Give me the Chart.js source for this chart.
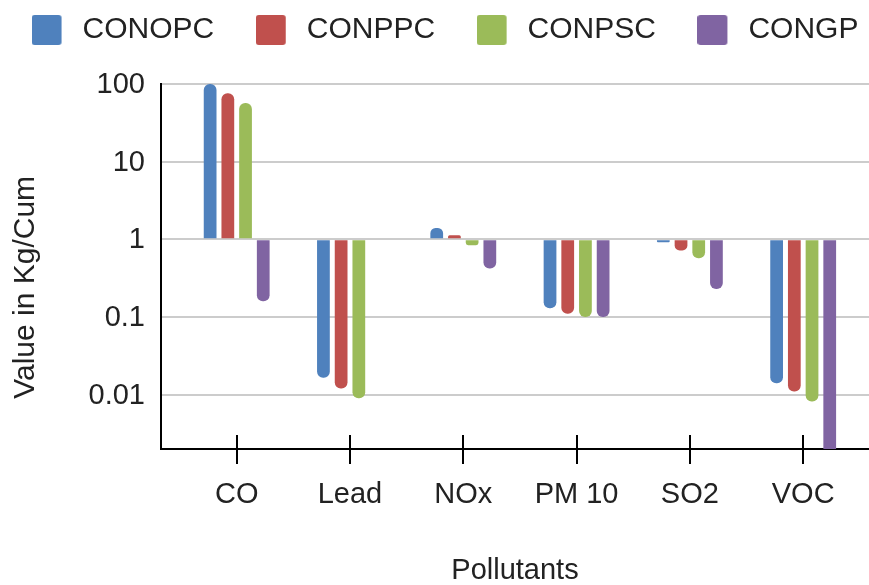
<!DOCTYPE html>
<html>
<head>
<meta charset="utf-8">
<script src="https://cdn.jsdelivr.net/npm/chart.js@4.4.1/dist/chart.umd.min.js"></script>
<style>
html,body{margin:0;padding:0;background:#ffffff;}
#wrap{width:869px;height:585px;}
</style>
</head>
<body>
<div id="wrap"><canvas id="c" width="869" height="585"></canvas></div>
<script>
// ---- data ----
const categories = ['CO', 'Lead', 'NOx', 'PM 10', 'SO2', 'VOC'];
const seriesNames = ['CONOPC', 'CONPPC', 'CONPSC', 'CONGP'];
const conopc = [100, 0.0165, 1.4, 0.13, 0.92, 0.014];
const conppc = [76, 0.012, 1.13, 0.11, 0.72, 0.011];
const conpsc = [57, 0.009, 0.84, 0.1, 0.57, 0.0082];
const congp  = [0.16, null, 0.42, 0.1, 0.23, 0.0015];
const yTickValues = [0.01, 0.1, 1, 10, 100];
const yTickLabels = ['0.01', '0.1', '1', '10', '100'];
const seriesColors = ['#4F81BD', '#C0504D', '#9BBB59', '#8064A2'];

const seriesValues = [conopc, conppc, conpsc, congp];
const FAMILY = "'Liberation Sans', Arial, Helvetica, sans-serif";
const TEXT = '#222222';

function makeSwatch(color) {
  const c = document.createElement('canvas');
  c.width = 36; c.height = 30;
  const g = c.getContext('2d');
  g.fillStyle = color;
  g.beginPath();
  if (g.roundRect) g.roundRect(0, 0, 30, 30, 3); else g.rect(0, 0, 30, 30);
  g.fill();
  return c;
}
const swatches = seriesColors.map(makeSwatch);

const legendTweak = {
  id: 'legendTweak',
  beforeLayout(chart) {
    const lg = chart.legend;
    if (lg && !lg._tweaked) {
      lg._tweaked = true;
      const orig = lg.fit;
      lg.fit = function () {
        const mw = this.maxWidth;
        this.maxWidth = 5000;
        orig.call(this);
        this.maxWidth = mw;
        this.width = mw;
        this.height += 29;
      };
    }
  },
  afterLayout(chart) {
    const lg = chart.legend;
    if (lg) { lg.left -= 60; lg.right += 60; }
  }
};

const xTickUp = {
  id: 'xTickUp',
  afterDatasetsDraw(chart) {
    const xs = chart.scales.x;
    const y0 = chart.chartArea.bottom;
    const ctx = chart.ctx;
    ctx.save();
    ctx.strokeStyle = '#000000';
    ctx.lineWidth = 2;
    xs.ticks.forEach(t => {
      const px = Math.round(xs.getPixelForValue(t.value));
      ctx.beginPath();
      ctx.moveTo(px, y0 - 14);
      ctx.lineTo(px, y0);
      ctx.stroke();
    });
    ctx.restore();
  }
};

const datasets = seriesNames.map((name, k) => ({
  label: name,
  data: seriesValues[k].map((v, i) => ({ x: i, y: v })),
  backgroundColor: seriesColors[k],
  borderWidth: 0,
  borderRadius: 6,
  borderSkipped: 'start',
  base: 1,
  clip: 0,
  categoryPercentage: 0.625,
  barPercentage: 0.72
}));

new Chart(document.getElementById('c'), {
  type: 'bar',
  data: { datasets },
  options: {
    responsive: false,
    animation: false,
    devicePixelRatio: 1,
    layout: { padding: { top: -26.5, left: 21, right: 0, bottom: 0 } },
    scales: {
      x: {
        type: 'linear',
        position: 'bottom',
        offset: false,
        min: -0.668,
        max: 5.581,
        bounds: 'data',
        afterBuildTicks: s => { s.ticks = categories.map((c, i) => ({ value: i })); },
        afterFit: s => { s.height = 136; },
        ticks: {
          callback: v => categories[v],
          autoSkip: false,
          maxRotation: 0,
          padding: 14,
          font: { family: FAMILY, size: 29 },
          color: TEXT
        },
        grid: { offset: false, drawOnChartArea: false, drawTicks: true, tickLength: 15, color: '#000000', lineWidth: 2 },
        border: { display: true, color: '#000000', width: 2 },
        title: {
          display: true,
          text: 'Pollutants',
          font: { family: FAMILY, size: 29, lineHeight: 1 },
          color: TEXT,
          padding: { top: 0, bottom: 0 }
        }
      },
      y: {
        type: 'logarithmic',
        min: 0.002,
        max: 100,
        bounds: 'data',
        afterBuildTicks: s => { s.ticks = yTickValues.map(v => ({ value: v })); },
        afterFit: s => { s.width = 140; },
        ticks: {
          callback: v => yTickLabels[yTickValues.indexOf(v)],
          padding: 16,
          labelOffset: 1,
          font: { family: FAMILY, size: 29 },
          color: TEXT
        },
        grid: { color: '#cccccc', lineWidth: 2, drawTicks: false },
        border: { display: true, color: '#000000', width: 2 },
        title: {
          display: true,
          text: 'Value in Kg/Cum     ',
          font: { family: FAMILY, size: 30, lineHeight: 1 },
          color: TEXT,
          padding: { top: -10, bottom: 0 }
        }
      }
    },
    plugins: {
      legend: {
        display: true,
        position: 'top',
        align: 'center',
        labels: {
          font: { family: FAMILY, size: 30 },
          color: TEXT,
          usePointStyle: true,
          pointStyleWidth: 36,
          boxHeight: 30,
          padding: 41.5,
          generateLabels(chart) {
            const items = Chart.defaults.plugins.legend.labels.generateLabels(chart);
            items.forEach(it => { it.pointStyle = swatches[it.datasetIndex]; });
            return items;
          }
        }
      },
      tooltip: { enabled: false }
    }
  },
  plugins: [legendTweak, xTickUp]
});
</script>
</body>
</html>
